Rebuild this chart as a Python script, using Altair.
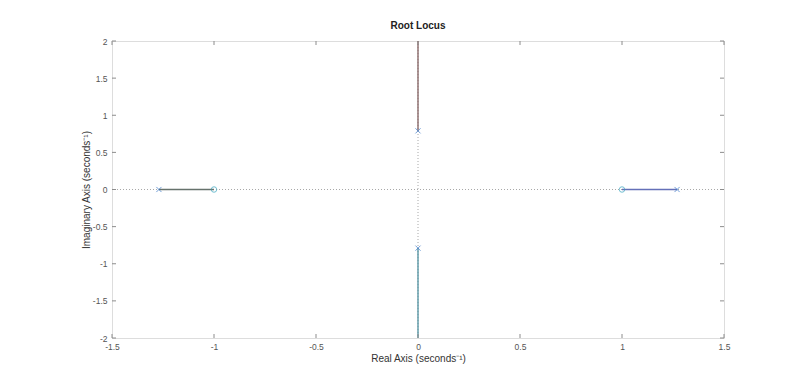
import altair as alt
import pandas as pd

# Branches of the root locus (each branch: list of (real, imag) points)
branch_names = ["b1", "b1", "b2", "b2", "b3", "b3", "b4", "b4"]
branch_re = [0.0, 0.0, 0.0, 0.0, -1.27, -1.0, 1.27, 1.0]
branch_im = [0.79, 2.3, -0.79, -2.3, 0.0, 0.0, 0.0, 0.0]
branch_order = [0, 1, 0, 1, 0, 1, 0, 1]
branch_colors = ["#8a6a6a", "#5a98a6", "#66726c", "#6470b8"]

# Poles and zeros
pole_re = [-1.27, 0.0, 0.0, 1.27]
pole_im = [0.0, 0.79, -0.79, 0.0]
zero_re = [-1.0, 1.0]
zero_im = [0.0, 0.0]

x_ticks = [-1.5, -1.0, -0.5, 0.0, 0.5, 1.0, 1.5]
y_ticks = [-2.0, -1.5, -1.0, -0.5, 0.0, 0.5, 1.0, 1.5, 2.0]

W, H = 612, 297
FONT = "Liberation Sans"
GRAY = "#555555"

branches = pd.DataFrame({"branch": branch_names, "re": branch_re, "im": branch_im, "o": branch_order})
poles = pd.DataFrame({"re": pole_re, "im": pole_im})
zeros = pd.DataFrame({"re": zero_re, "im": zero_im})
xt = pd.DataFrame({"re": x_ticks})
yt = pd.DataFrame({"im": y_ticks})

xscale = alt.Scale(domain=[-1.5, 1.5], nice=False, zero=False)
yscale = alt.Scale(domain=[-2, 2], nice=False, zero=False)

label_expr = "datum.value == 0 ? '0' : '' + datum.value"

xaxis = alt.Axis(values=x_ticks, title="Real Axis (seconds⁻¹)", labelExpr=label_expr,
                 tickSize=0, domain=False, grid=False, labelPadding=4, titlePadding=3,
                 labelFlush=False, labelOverlap=False,
                 labelFont=FONT, titleFont=FONT, labelFontSize=8.5, titleFontSize=10,
                 labelColor=GRAY, titleColor="#333333", titleFontWeight="normal")
yaxis = alt.Axis(values=y_ticks, title="Imaginary Axis (seconds⁻¹)", labelExpr=label_expr,
                 tickSize=0, domain=False, grid=False, labelPadding=5, titlePadding=1,
                 labelFlush=False, labelOverlap=False,
                 labelFont=FONT, titleFont=FONT, labelFontSize=8.5, titleFontSize=10,
                 labelColor=GRAY, titleColor="#333333", titleFontWeight="normal")

X = alt.X("re:Q", scale=xscale, axis=xaxis)
Y = alt.Y("im:Q", scale=yscale, axis=yaxis)

# dotted zero lines
zero_h = alt.Chart(pd.DataFrame({"im": [0.0]})).mark_rule(
    color="#a8a8a8", strokeDash=[1, 2], strokeWidth=1
).encode(y=Y)
zero_v = alt.Chart(pd.DataFrame({"re": [0.0]})).mark_rule(
    color="#a8a8a8", strokeDash=[1, 2], strokeWidth=1
).encode(x=X)

lines = alt.Chart(branches).mark_line(strokeWidth=1.4, clip=True).encode(
    x=X, y=Y,
    color=alt.Color("branch:N", scale=alt.Scale(domain=["b1", "b2", "b3", "b4"], range=branch_colors), legend=None),
    order="o:Q",
)

pole_pts = alt.Chart(poles).mark_point(
    shape="M-1,-1L1,1M1,-1L-1,1", size=26, filled=False, color="#3a78c8", strokeWidth=1
).encode(x=X, y=Y)

zero_pts = alt.Chart(zeros).mark_point(
    shape="circle", size=30, filled=False, color="#3aa6c0", strokeWidth=1
).encode(x=X, y=Y)

TICK = "#8c8c8c"
tick_bottom = alt.Chart(xt).mark_rule(color=TICK).encode(
    x=X, y=alt.value(H), y2=alt.value(H - 4))
tick_top = alt.Chart(xt).mark_rule(color=TICK).encode(
    x=X, y=alt.value(0), y2=alt.value(4))
tick_left = alt.Chart(yt).mark_rule(color=TICK).encode(
    y=Y, x=alt.value(0), x2=alt.value(4))
tick_right = alt.Chart(yt).mark_rule(color=TICK).encode(
    y=Y, x=alt.value(W), x2=alt.value(W - 4))

chart = alt.layer(
    zero_h, zero_v, lines, tick_bottom, tick_top, tick_left, tick_right, pole_pts, zero_pts
).properties(
    width=W, height=H,
    title=alt.TitleParams("Root Locus", font=FONT, fontSize=10, fontWeight="bold",
                          color="#222222", offset=6, anchor="middle"),
    autosize=alt.AutoSizeParams(type="none"),
    padding={"left": 112, "top": 41, "right": 76, "bottom": 43},
).configure_view(
    stroke="#9a9a9a", strokeWidth=1
).configure(background="white")

chart.save("out.html", embed_options={"renderer": "svg", "actions": False})
